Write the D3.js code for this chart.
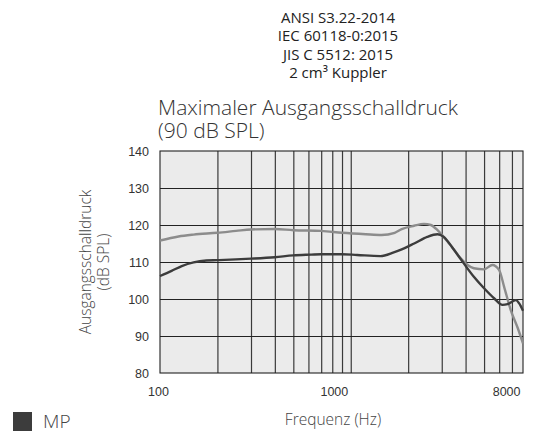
<!DOCTYPE html>
<html>
<head>
<meta charset="utf-8">
<script src="https://cdn.jsdelivr.net/npm/d3@7"></script>
<style>
  body { margin: 0; background: #fff; }
  svg { display: block; }
</style>
</head>
<body>
<div id="chart"></div>
<script>
// Standards block, title, axis labels
const headerLines = ["ANSI S3.22-2014", "IEC 60118-0:2015", "JIS C 5512: 2015", "2 cm³ Kuppler"];
const titleLines = ["Maximaler Ausgangsschalldruck", "(90 dB SPL)"];
const yLabelLines = ["Ausgangsschalldruck", "(dB SPL)"];
const xLabel = "Frequenz (Hz)";
const legendLabel = "MP";

// Ticks and grid
const yTicks = [80, 90, 100, 110, 120, 130, 140];
const xTicks = [100, 1000, 8000];
const xGrid = [200, 300, 400, 500, 600, 700, 800, 900, 1000, 2000, 3000, 4000, 5000, 6000, 7000];

// Upper curve (light grey)
const upperFreq = [100, 125, 150, 200, 250, 300, 400, 500, 700, 900, 1200, 1450, 1700, 1850, 2150, 2420, 2630, 2850, 3070, 3400, 3770, 4100, 4420, 5000, 5530, 6000, 6370, 6900, 7490, 8000];
const upperSpl = [115.8, 116.9, 117.4, 117.9, 118.4, 118.8, 118.9, 118.6, 118.4, 117.9, 117.5, 117.3, 117.9, 118.9, 119.8, 120.3, 120.0, 118.6, 116.8, 114.0, 111.0, 109.2, 108.3, 108.0, 109.2, 107.8, 103.3, 97.0, 92.3, 88.0];

// Lower curve (dark grey)
const lowerFreq = [100, 115, 130, 150, 175, 200, 250, 300, 400, 500, 620, 700, 900, 1080, 1430, 1680, 1850, 2150, 2520, 2850, 3070, 3400, 3770, 4420, 5000, 5640, 6250, 6640, 7340, 7640, 8000];
const lowerSpl = [106.2, 107.6, 108.9, 109.9, 110.4, 110.5, 110.7, 110.9, 111.3, 111.8, 112.0, 112.1, 112.1, 111.9, 111.6, 112.6, 113.4, 115.0, 116.8, 117.5, 116.8, 114.0, 110.8, 106.0, 102.9, 100.2, 98.4, 98.6, 99.7, 98.8, 96.8];

const width = 536;
const height = 433;
const marginTop = 151;
const marginRight = 13;
const marginBottom = 60;
const marginLeft = 160;

const lightFont = "'Open Sans', 'Noto Sans', sans-serif";
const tickFont = "'Liberation Sans', Arial, sans-serif";

const svg = d3.select("#chart")
  .append("svg")
  .attr("width", width)
  .attr("height", height);

const x = d3.scaleLog()
  .domain([100, 8000])
  .range([marginLeft, width - marginRight]);

const y = d3.scaleLinear()
  .domain([80, 140])
  .range([height - marginBottom, marginTop]);

// Plot background
svg.append("rect")
  .attr("x", x(100))
  .attr("y", y(140))
  .attr("width", x(8000) - x(100))
  .attr("height", y(80) - y(140))
  .attr("fill", "#ebebeb");

// Vertical grid
svg.append("g")
  .attr("transform", `translate(0,${height - marginBottom})`)
  .call(d3.axisBottom(x).tickValues(xGrid).tickSize(-(height - marginTop - marginBottom)).tickFormat(""))
  .call(g => g.select(".domain").remove())
  .call(g => g.selectAll("line").attr("stroke", "#3a3a3a").attr("stroke-width", 1.2));

// Horizontal grid
svg.append("g")
  .attr("transform", `translate(${marginLeft},0)`)
  .call(d3.axisLeft(y).tickValues(yTicks.slice(1, -1)).tickSize(-(width - marginLeft - marginRight)).tickFormat(""))
  .call(g => g.select(".domain").remove())
  .call(g => g.selectAll("line").attr("stroke", "#222").attr("stroke-width", 1.1));

// Frame
svg.append("rect")
  .attr("x", x(100))
  .attr("y", y(140))
  .attr("width", x(8000) - x(100))
  .attr("height", y(80) - y(140))
  .attr("fill", "none")
  .attr("stroke", "#222")
  .attr("stroke-width", 1.1);

// Curves
const line = d3.line()
  .x(d => x(d[0]))
  .y(d => y(d[1]))
  .curve(d3.curveMonotoneX);

svg.append("path")
  .datum(d3.zip(upperFreq, upperSpl))
  .attr("fill", "none")
  .attr("stroke", "#8c8c8c")
  .attr("stroke-width", 2.4)
  .attr("d", line);

svg.append("path")
  .datum(d3.zip(lowerFreq, lowerSpl))
  .attr("fill", "none")
  .attr("stroke", "#3c3c3c")
  .attr("stroke-width", 2.4)
  .attr("d", line);

// Y axis labels
svg.append("g")
  .attr("transform", `translate(${marginLeft},0)`)
  .call(d3.axisLeft(y).tickValues(yTicks).tickSize(0).tickPadding(11))
  .call(g => g.select(".domain").remove())
  .call(g => g.selectAll("text")
    .attr("font-family", tickFont)
    .attr("font-size", 12.5)
    .attr("fill", "#333"));

// X axis labels
svg.append("g")
  .attr("transform", `translate(0,${height - marginBottom})`)
  .call(d3.axisBottom(x).tickValues(xTicks).tickFormat(d3.format("d")).tickSize(0).tickPadding(14))
  .call(g => g.select(".domain").remove())
  .call(g => g.selectAll("text")
    .attr("font-family", tickFont)
    .attr("font-size", 12.5)
    .attr("fill", "#333")
    .attr("text-anchor", (d, i) => i === 0 ? "middle" : "end")
    .attr("dx", (d, i) => i === 0 ? -2 : -3));

// Header
svg.append("g")
  .selectAll("text")
  .data(headerLines)
  .join("text")
  .attr("x", 338)
  .attr("y", (d, i) => 22.5 + i * 18.6)
  .attr("text-anchor", "middle")
  .attr("font-family", lightFont)
  .attr("font-size", 15)
  .attr("fill", "#222")
  .text(d => d);

// Title
svg.append("g")
  .selectAll("text")
  .data(titleLines)
  .join("text")
  .attr("x", 158)
  .attr("y", (d, i) => 115 + i * 23)
  .attr("font-family", lightFont)
  .attr("font-weight", 300)
  .attr("font-size", 21)
  .attr("fill", "#333")
  .text(d => d);

// Y axis title
svg.append("g")
  .attr("transform", "translate(97,262) rotate(-90)")
  .selectAll("text")
  .data(yLabelLines)
  .join("text")
  .attr("x", 0)
  .attr("y", (d, i) => -6 + i * 18)
  .attr("text-anchor", "middle")
  .attr("font-family", lightFont)
  .attr("font-weight", 300)
  .attr("font-size", 15.5)
  .attr("fill", "#444")
  .text(d => d);

// X axis title
svg.append("text")
  .attr("x", 333)
  .attr("y", 425)
  .attr("text-anchor", "middle")
  .attr("font-family", lightFont)
  .attr("font-weight", 300)
  .attr("font-size", 15.5)
  .attr("fill", "#444")
  .text(xLabel);

// Legend
svg.append("rect")
  .attr("x", 13)
  .attr("y", 412)
  .attr("width", 19)
  .attr("height", 19)
  .attr("fill", "#3c3c3c");

svg.append("text")
  .attr("x", 43)
  .attr("y", 428)
  .attr("font-family", lightFont)
  .attr("font-weight", 300)
  .attr("font-size", 19)
  .attr("fill", "#444")
  .text(legendLabel);
</script>
</body>
</html>
